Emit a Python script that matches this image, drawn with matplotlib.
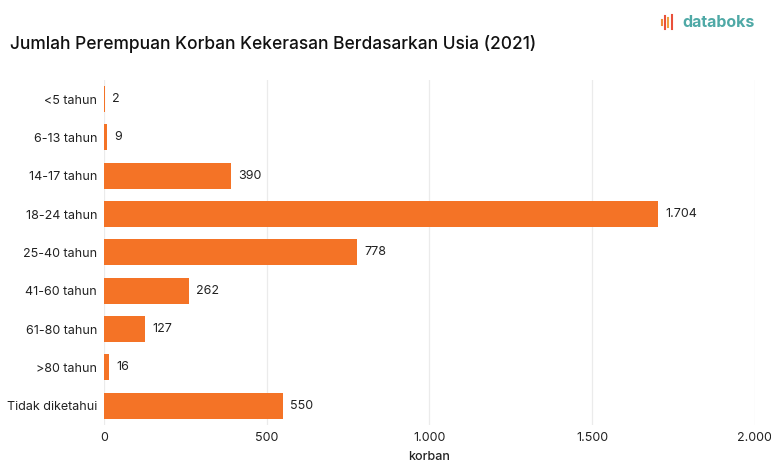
import matplotlib
matplotlib.use("Agg")
import matplotlib.pyplot as plt
from matplotlib.ticker import FuncFormatter

plt.rcParams['font.family'] = ['Inter', 'DejaVu Sans']

categories = ["<5 tahun", "6-13 tahun", "14-17 tahun", "18-24 tahun", "25-40 tahun",
              "41-60 tahun", "61-80 tahun", ">80 tahun", "Tidak diketahui"]
values = [2, 9, 390, 1704, 778, 262, 127, 16, 550]
xticks = [0, 500, 1000, 1500, 2000]

def fmt(v):
    return f"{int(v):,}".replace(",", ".")

bar_color = "#F47326"

fig = plt.figure(figsize=(7.71, 4.67), dpi=100)
ax = fig.add_axes([0.1349, 0.090, 0.844, 0.739])

y = list(range(len(categories)))
ax.barh(y, values, height=0.68, color=bar_color, zorder=3)
ax.set_ylim(len(categories) - 0.5, -0.5)
ax.set_xlim(0, 2000)
ax.set_yticks(y)
ax.set_yticklabels(categories, fontsize=9, color="#222222")
ax.set_xticks(xticks)
ax.xaxis.set_major_formatter(FuncFormatter(lambda v, p: fmt(v)))
ax.tick_params(axis='x', labelsize=9, colors="#222222", length=0, pad=5)
ax.tick_params(axis='y', length=0, pad=5)
ax.grid(axis='x', color="#EBEBEB", linewidth=0.9, zorder=0)
for s in ax.spines.values():
    s.set_visible(False)
ax.set_xlabel("korban", fontsize=9, color="#222222", labelpad=5, fontweight='medium')

for yi, v in zip(y, values):
    ax.text(v + 22, yi, fmt(v), va='center', ha='left', fontsize=9, color="#222222")

fig.text(0.013, 0.905, "Jumlah Perempuan Korban Kekerasan Berdasarkan Usia (2021)",
         fontsize=12.5, color="#111111", va='center', ha='left', fontweight='medium')

# databoks logo
fig.text(0.979, 0.952, "databoks", fontsize=11.5, color="#4FA9A6", fontweight='bold',
         va='center', ha='right')
lx0 = 0.858
for i, (h, c) in enumerate([(0.012, "#F08A3A"), (0.028, "#E9503A"), (0.018, "#F0A040"), (0.03, "#E9503A")]):
    fig.add_artist(plt.Line2D([lx0 + i * 0.0045, lx0 + i * 0.0045], [0.952 - h / 2, 0.952 + h / 2],
                              color=c, linewidth=1.5, transform=fig.transFigure))

fig.savefig("out.png", dpi=100)
